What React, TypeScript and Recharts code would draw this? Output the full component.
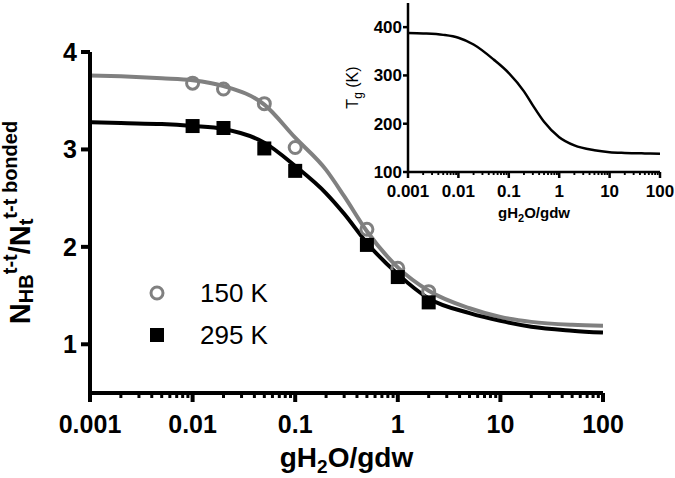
import { ComposedChart, LineChart, Line, Scatter, XAxis, YAxis, Legend } from "recharts";

const FONT = "'Liberation Sans', Arial, Helvetica, sans-serif";
const GREY = "#808080";

// main panel: fitted curves
const curveX = [0.001, 0.002, 0.005, 0.01, 0.02, 0.05, 0.1, 0.2, 0.3, 0.5, 1, 2, 5, 10, 20, 50, 100];
const fit150 = [3.76, 3.75, 3.73, 3.71, 3.65, 3.46, 3.12, 2.79, 2.52, 2.16, 1.79, 1.55, 1.37, 1.28, 1.23, 1.2, 1.19];
const fit295 = [3.28, 3.27, 3.26, 3.24, 3.21, 3.07, 2.83, 2.55, 2.34, 2.04, 1.72, 1.47, 1.32, 1.24, 1.18, 1.14, 1.12];

// main panel: simulation points
const pointX = [0.01, 0.02, 0.05, 0.1, 0.5, 1, 2];
const pts150 = [3.68, 3.62, 3.47, 3.02, 2.18, 1.78, 1.54];
const pts295 = [3.24, 3.22, 3.01, 2.78, 2.02, 1.69, 1.43];
const legendNames = ["150 K", "295 K"];

// inset: Tg vs hydration
const tgX = [0.001, 0.002, 0.005, 0.01, 0.02, 0.05, 0.1, 0.2, 0.3, 0.5, 1, 2, 5, 10, 20, 50, 100];
const tgK = [388, 387, 384, 378, 364, 333, 305, 267, 238, 204, 172, 155, 145, 141, 139.5, 138.5, 138];

// axes
const decades = [0.001, 0.01, 0.1, 1, 10, 100];
const minorSteps = [2, 3, 4, 5, 6, 7, 8, 9];
const mainYTicks = [1, 2, 3, 4];
const insetYTicks = [100, 200, 300, 400];

const minorTicks = decades.slice(0, -1).flatMap((d) => minorSteps.map((m) => +(d * m).toPrecision(3)));
const xTicks = [...decades, ...minorTicks].sort((a, b) => a - b);

const zip = (xs: number[], ys: number[]) => xs.map((x, i) => ({ x, y: ys[i] }));
const line150 = zip(curveX, fit150);
const line295 = zip(curveX, fit295);
const dots150 = zip(pointX, pts150);
const dots295 = zip(pointX, pts295);
const tgLine = zip(tgX, tgK);

/** log-axis tick: long mark + label on decades, short mark otherwise */
function makeXTick(major: number, minor: number, width: number, fontSize: number, dy: number) {
  return (props: any) => {
    const { x, y, payload } = props;
    const isMajor = decades.includes(payload.value);
    return (
      <g>
        <line x1={x} x2={x} y1={y} y2={y + (isMajor ? major : minor)} stroke="#000" strokeWidth={isMajor ? width : width * 0.75} />
        {isMajor && (
          <text x={x} y={y + dy} textAnchor="middle" fontFamily={FONT} fontWeight="bold" fontSize={fontSize} fill="#000">
            {String(payload.value)}
          </text>
        )}
      </g>
    );
  };
}

function makeYTick(len: number, width: number, fontSize: number, gap: number, dy: number) {
  return (props: any) => {
    const { x, y, payload } = props;
    return (
      <g>
        <line x1={x - len} x2={x} y1={y} y2={y} stroke="#000" strokeWidth={width} />
        <text x={x - len - gap} y={y + dy} textAnchor="end" fontFamily={FONT} fontWeight="bold" fontSize={fontSize} fill="#000">
          {payload.value}
        </text>
      </g>
    );
  };
}

function MainYTitle(props: any) {
  const vb = props.viewBox;
  const cx = vb.x + 30;
  const cy = vb.y + vb.height / 2;
  return (
    <text x={cx} y={cy} transform={`rotate(-90 ${cx} ${cy})`} textAnchor="middle" fontFamily={FONT} fontWeight="bold" fontSize={29} fill="#000">
      N<tspan fontSize={20} dy={3}>HB</tspan>
      <tspan fontSize={20} dy={-16}>t-t</tspan>
      <tspan dy={13}>/N</tspan>
      <tspan fontSize={20} dy={3}>t</tspan>
      <tspan fontSize={20} dy={-16}>t-t bonded</tspan>
    </text>
  );
}

function MainXTitle(props: any) {
  const vb = props.viewBox;
  const cx = vb.x + vb.width / 2;
  return (
    <text x={cx} y={vb.y + 74} textAnchor="middle" fontFamily={FONT} fontWeight="bold" fontSize={28} fill="#000">
      gH<tspan fontSize={19} dy={6}>2</tspan>
      <tspan dy={-6}>O/gdw</tspan>
    </text>
  );
}

function InsetYTitle(props: any) {
  const vb = props.viewBox;
  const cx = vb.x + 28;
  const cy = vb.y + vb.height / 2;
  return (
    <text x={cx} y={cy} transform={`rotate(-90 ${cx} ${cy})`} textAnchor="middle" fontFamily={FONT} fontSize={16} fill="#000">
      T<tspan fontSize={12} dy={4}>g</tspan>
      <tspan dy={-4}> (K)</tspan>
    </text>
  );
}

function InsetXTitle(props: any) {
  const vb = props.viewBox;
  const cx = vb.x + vb.width / 2;
  return (
    <text x={cx} y={vb.y + 46} textAnchor="middle" fontFamily={FONT} fontWeight="bold" fontSize={15} fill="#000">
      gH<tspan fontSize={11} dy={4}>2</tspan>
      <tspan dy={-4}>O/gdw</tspan>
    </text>
  );
}

const renderLegend = () => (
  <div style={{ fontFamily: FONT, fontSize: 26, color: "#000" }}>
    {legendNames.map((name, i) => (
      <div key={name} style={{ display: "flex", alignItems: "center", height: 42 }}>
        <svg width={26} height={26}>
          {i === 0 ? (
            <circle cx={13} cy={13} r={6} fill="none" stroke={GREY} strokeWidth={3} />
          ) : (
            <rect x={6} y={6} width={14} height={14} fill="#000" />
          )}
        </svg>
        <span style={{ marginLeft: 30 }}>{name}</span>
      </div>
    ))}
  </div>
);

export default function App() {
  return (
    <div style={{ position: "absolute", left: 0, top: 0, width: 675, height: 478, background: "#fff" }}>
      <ComposedChart width={675} height={478} margin={{ top: 52, right: 72, bottom: 0, left: 0 }}>
        <XAxis
          dataKey="x"
          type="number"
          scale="log"
          domain={[0.001, 100]}
          allowDataOverflow
          ticks={xTicks}
          interval={0}
          tickSize={0}
          tickMargin={0}
          tickLine={false}
          axisLine={{ stroke: "#000", strokeWidth: 4 }}
          tick={makeXTick(9, 5, 4, 25, 40)}
          height={85}
          label={<MainXTitle />}
        />
        <YAxis
          dataKey="y"
          type="number"
          domain={[0.5, 4]}
          allowDataOverflow
          ticks={mainYTicks}
          interval={0}
          tickSize={0}
          tickMargin={0}
          tickLine={false}
          axisLine={{ stroke: "#000", strokeWidth: 4 }}
          tick={makeYTick(9, 4, 25, 4, 9)}
          width={90}
          label={<MainYTitle />}
        />
        <Line data={line150} dataKey="y" name="150 K fit" type="monotone" stroke={GREY} strokeWidth={4} dot={false} isAnimationActive={false} legendType="none" />
        <Line data={line295} dataKey="y" name="295 K fit" type="monotone" stroke="#000" strokeWidth={4} dot={false} isAnimationActive={false} legendType="none" />
        <Scatter
          data={dots150}
          dataKey="y"
          name={legendNames[0]}
          isAnimationActive={false}
          shape={(p: any) => <circle cx={p.cx} cy={p.cy} r={6} fill="none" stroke={GREY} strokeWidth={3} />}
        />
        <Scatter
          data={dots295}
          dataKey="y"
          name={legendNames[1]}
          isAnimationActive={false}
          shape={(p: any) => <rect x={p.cx - 7} y={p.cy - 7} width={14} height={14} fill="#000" />}
        />
        <Legend
          content={renderLegend}
          layout="vertical"
          align="center"
          verticalAlign="middle"
          wrapperStyle={{ left: 144, top: 272, width: 180, height: 84 }}
        />
      </ComposedChart>

      <div style={{ position: "absolute", left: 330, top: 0 }}>
        <LineChart width={345} height={230} margin={{ top: 3, right: 15, bottom: 0, left: 0 }}>
          <XAxis
            dataKey="x"
            type="number"
            scale="log"
            domain={[0.001, 100]}
            allowDataOverflow
            ticks={xTicks}
            interval={0}
            tickSize={0}
            tickMargin={0}
            tickLine={false}
            axisLine={{ stroke: "#000", strokeWidth: 2.5 }}
            tick={makeXTick(6, 3, 2.5, 17, 25)}
            height={58}
            label={<InsetXTitle />}
          />
          <YAxis
            dataKey="y"
            type="number"
            domain={[100, 450]}
            allowDataOverflow
            ticks={insetYTicks}
            interval={0}
            tickSize={0}
            tickMargin={0}
            tickLine={false}
            axisLine={{ stroke: "#000", strokeWidth: 2.5 }}
            tick={makeYTick(5, 2.5, 17, 1, 6)}
            width={78}
            label={<InsetYTitle />}
          />
          <Line data={tgLine} dataKey="y" type="monotone" stroke="#000" strokeWidth={2.5} dot={false} isAnimationActive={false} />
        </LineChart>
      </div>
    </div>
  );
}
